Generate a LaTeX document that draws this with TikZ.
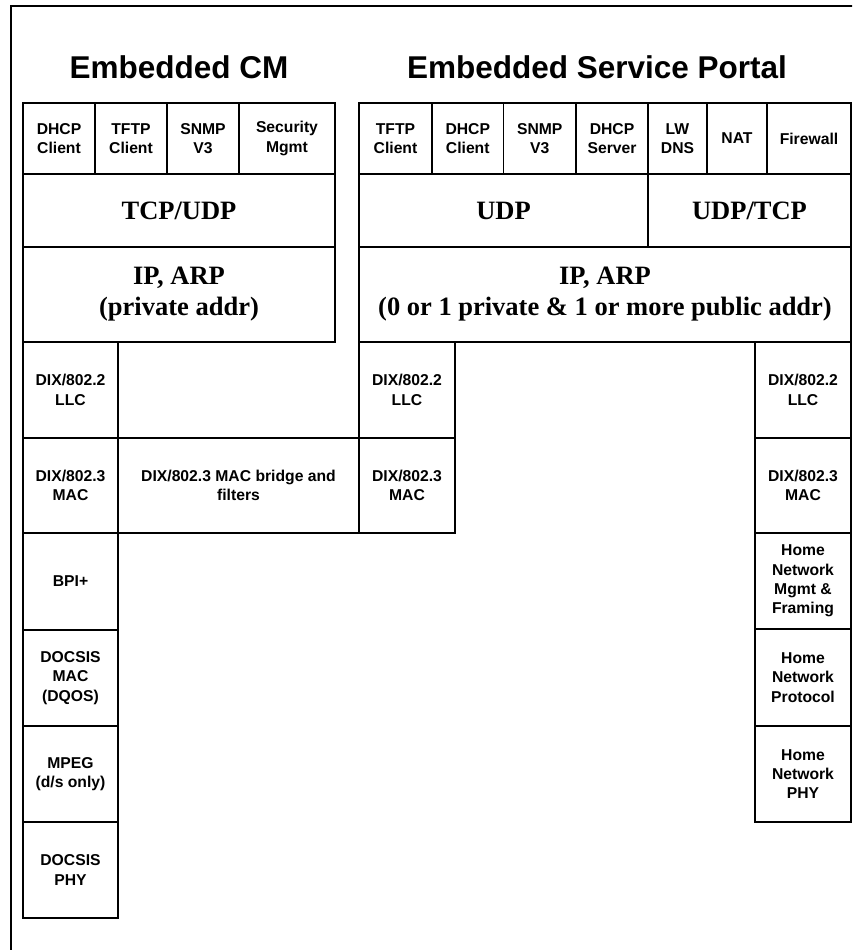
\documentclass[tikz,border=0pt]{standalone}
\usepackage{fontspec}
\setmainfont{Liberation Serif}
\setsansfont{Liberation Sans}
\begin{document}
\begin{tikzpicture}[x=1pt,y=-1pt,
		lay/.style={draw,line width=1.7pt,inner sep=0pt,align=center,
			font=\sffamily\bfseries\fontsize{15.7}{19.3}\selectfont},
		big/.style={lay,font=\rmfamily\bfseries\fontsize{26.5}{31}\selectfont},
		title/.style={anchor=base,font=\sffamily\bfseries\fontsize{31.5}{38}\selectfont}]
		\useasboundingbox (0,0) rectangle (852,950);
		\clip (0,0) rectangle (852,950);
		\draw[line width=1.7pt] (11,980) -- (11,6) -- (880,6) -- (880,980);
		
		% titles
		\node[title] (cmT) at (179,78) {Embedded CM};
		\node[title] (spT) at (597,78) {Embedded Service Portal};
		
		% embedded CM stack
		\node[lay,minimum width=72,minimum height=71] (dhcpA) at (59,138.5) {DHCP\\Client};
		\node[lay,minimum width=72,minimum height=71] (tftpA) at (131,138.5) {TFTP\\Client};
		\node[lay,minimum width=72,minimum height=71] (snmpA) at (203,138.5) {SNMP\\V3};
		\node[lay,minimum width=96,minimum height=71] (secA) at (287,138.5) {Security\\Mgmt};
		\node[big,minimum width=312,minimum height=73] (tcpA) at (179,210.5) {TCP/UDP};
		\node[big,minimum width=312,minimum height=95] (ipA) at (179,294.5) {IP, ARP\\(private addr)};
		\node[lay,minimum width=95,minimum height=96] (llcA) at (70.5,390) {DIX/802.2\\LLC};
		\node[lay,minimum width=95,minimum height=95] (macA) at (70.5,485.5) {DIX/802.3\\MAC};
		\node[lay,minimum width=241,minimum height=95] (bridge) at (238.5,485.5) {DIX/802.3 MAC bridge and\\filters};
		\node[lay,minimum width=95,minimum height=97] (bpi) at (70.5,581.5) {BPI+};
		\node[lay,minimum width=95,minimum height=96] (dmac) at (70.5,678) {DOCSIS\\MAC\\(DQOS)};
		\node[lay,minimum width=95,minimum height=96] (mpeg) at (70.5,774) {MPEG\\(d/s only)};
		\node[lay,minimum width=95,minimum height=96] (dphy) at (70.5,870) {DOCSIS\\PHY};
		
		% embedded service portal stack
		\node[lay,minimum width=73,minimum height=71] (tftpB) at (395.5,138.5) {TFTP\\Client};
		\node[lay,minimum width=71.5,minimum height=71] (dhcpB) at (467.75,138.5) {DHCP\\Client};
		\node[lay,minimum width=72.5,minimum height=71] (snmpB) at (539.75,138.5) {SNMP\\V3};
		\node[lay,minimum width=72,minimum height=71] (dhcpS) at (612,138.5) {DHCP\\Server};
		\node[lay,minimum width=59,minimum height=71] (lwdns) at (677.5,138.5) {LW\\DNS};
		\node[lay,minimum width=60,minimum height=71] (nat) at (737,138.5) {NAT};
		\node[lay,minimum width=84,minimum height=71] (fw) at (809,138.5) {Firewall};
		\node[big,minimum width=289,minimum height=73] (udpB) at (503.5,210.5) {UDP};
		\node[big,minimum width=203,minimum height=73] (udptcp) at (749.5,210.5) {UDP/TCP};
		\node[big,minimum width=492,minimum height=95] (ipB) at (605,294.5) {IP, ARP\\(0 or 1 private \& 1 or more public addr)};
		\node[lay,minimum width=96,minimum height=96] (llcB) at (407,390) {DIX/802.2\\LLC};
		\node[lay,minimum width=96,minimum height=95] (macB) at (407,485.5) {DIX/802.3\\MAC};
		\node[lay,minimum width=96,minimum height=96] (llcC) at (803,390) {DIX/802.2\\LLC};
		\node[lay,minimum width=96,minimum height=95] (macC) at (803,485.5) {DIX/802.3\\MAC};
		\node[lay,minimum width=96,minimum height=96] (hmgmt) at (803,581) {Home\\Network\\Mgmt \&\\Framing};
		\node[lay,minimum width=96,minimum height=97] (hproto) at (803,677.5) {Home\\Network\\Protocol};
		\node[lay,minimum width=96,minimum height=96] (hphy) at (803,774) {Home\\Network\\PHY};
\end{tikzpicture}
\end{document}
